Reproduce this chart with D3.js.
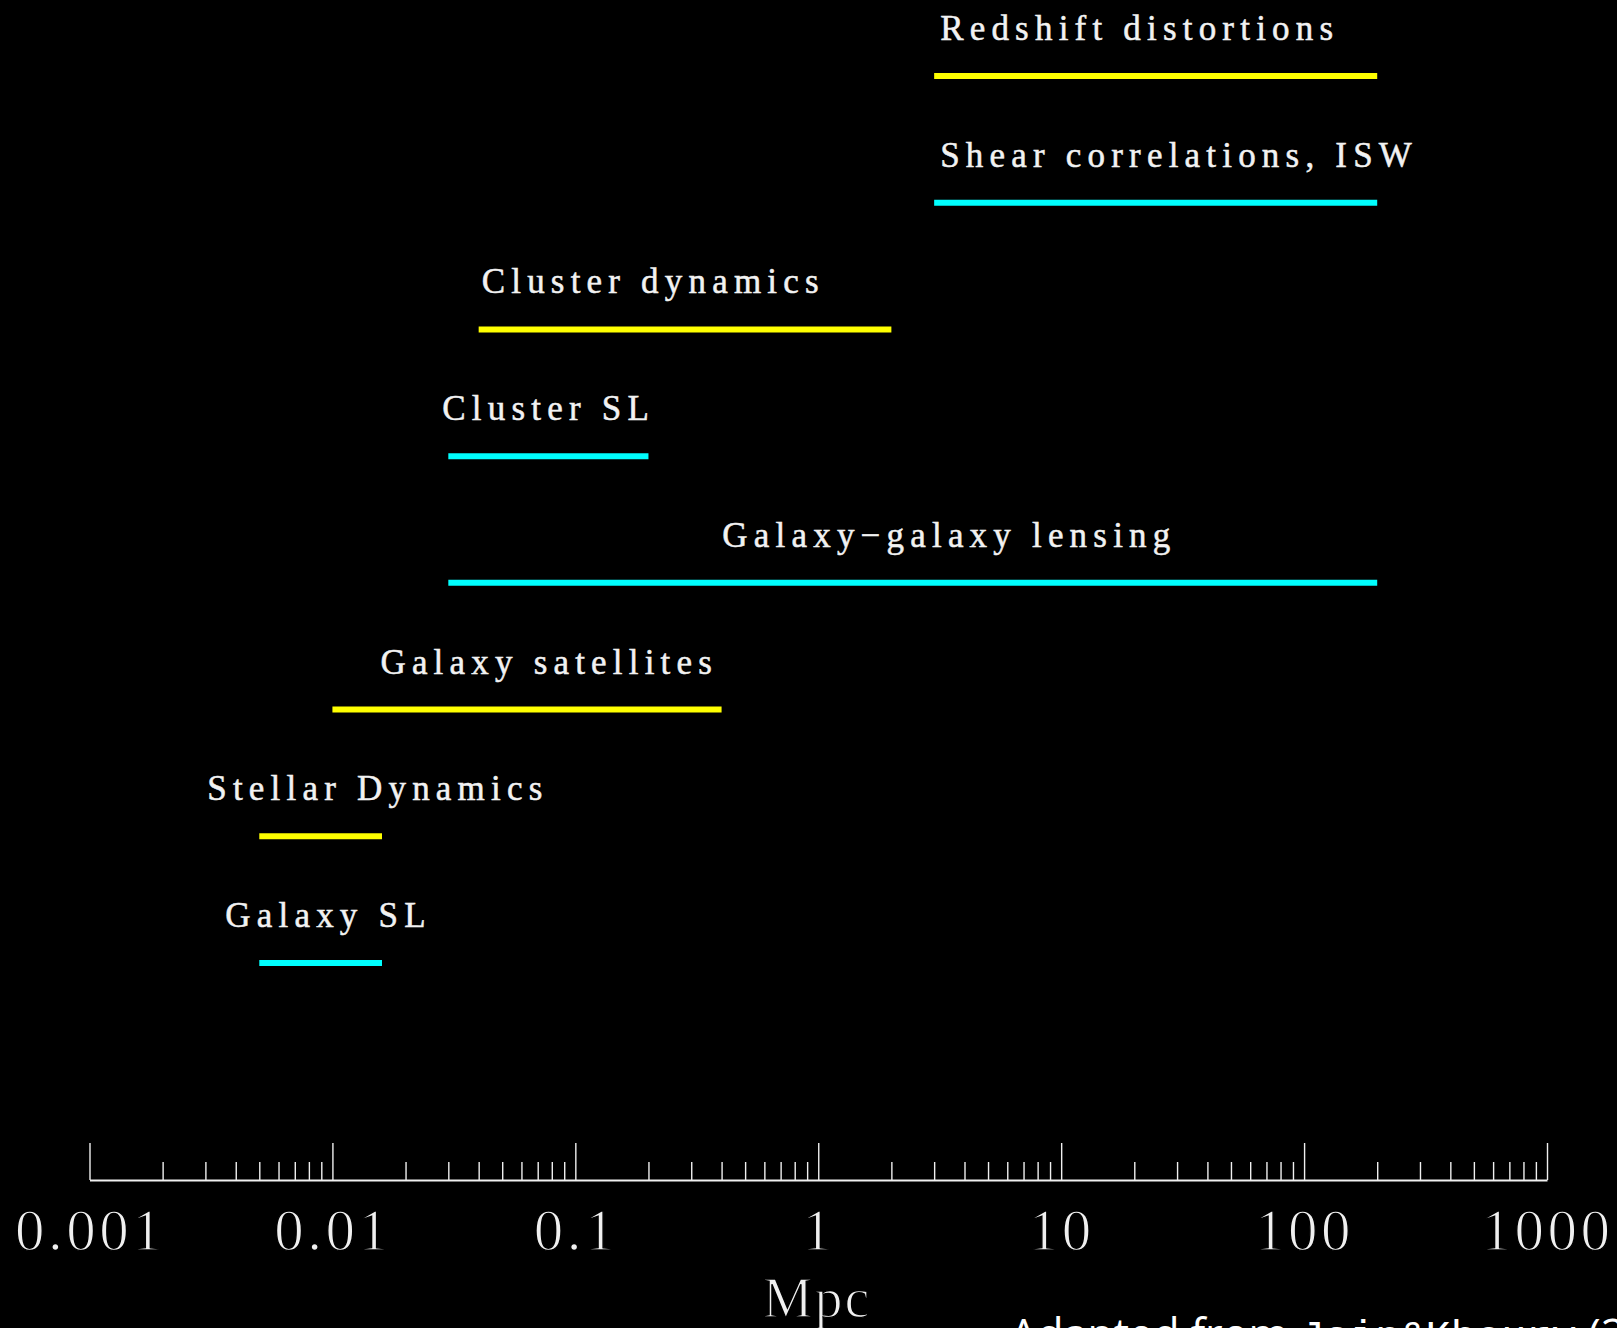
<!DOCTYPE html>
<html>
<head>
<meta charset="utf-8">
<script src="https://cdn.jsdelivr.net/npm/d3@7"></script>
<style>
  html, body { margin: 0; padding: 0; background: #000; }
  svg { display: block; }
</style>
</head>
<body>
<svg id="chart" width="1617" height="1328"></svg>
<script>
// Probes of gravity and the length scales (Mpc) each one covers
const probes = [
  "Redshift distortions",
  "Shear correlations, ISW",
  "Cluster dynamics",
  "Cluster SL",
  "Galaxy\u2212galaxy lensing",
  "Galaxy satellites",
  "Stellar Dynamics",
  "Galaxy SL"
];
const scaleMin = [3, 3, 0.04, 0.03, 0.03, 0.01, 0.005, 0.005];
const scaleMax = [200, 200, 2, 0.2, 200, 0.4, 0.016, 0.016];
const probeKind = ["dynamics", "lensing", "dynamics", "lensing", "lensing", "dynamics", "dynamics", "lensing"];

const majorTicks = [0.001, 0.01, 0.1, 1, 10, 100, 1000];
const tickLabels = ["0.001", "0.01", "0.1", "1", "10", "100", "1000"];
const axisTitle = "Mpc";

// Layout: horizontal shift of each label relative to the left end of its bar (px)
const labelShift = [6, 6, 3, -6, 274, 48, -52, -34];

const svg = d3.select("#chart");
const W = 1617, H = 1328;
svg.append("rect").attr("width", W).attr("height", H).attr("fill", "#000");

const x = d3.scaleLog().domain([0.001, 1000]).range([89.5, 1547]);
const y = d3.scalePoint().domain(probes).range([76, 963]);
const color = d3.scaleOrdinal().domain(["dynamics", "lensing"]).range(["#ffff00", "#00ffff"]);

const rows = probes.map((name, i) => ({
  name, lo: scaleMin[i], hi: scaleMax[i], kind: probeKind[i], shift: labelShift[i]
}));

// Range bars
svg.append("g").selectAll("line").data(rows).join("line")
  .attr("x1", d => x(d.lo))
  .attr("x2", d => x(d.hi))
  .attr("y1", d => y(d.name))
  .attr("y2", d => y(d.name))
  .attr("stroke", d => color(d.kind))
  .attr("stroke-width", 6)
  .attr("stroke-linecap", "butt");

// Probe names above the bars
svg.append("g").selectAll("text").data(rows).join("text")
  .attr("x", d => x(d.lo) + d.shift)
  .attr("y", d => y(d.name) - 36)
  .attr("fill", "#f2f2f2")
  .attr("stroke", "#f2f2f2")
  .attr("stroke-width", 0.5)
  .attr("font-family", "'Liberation Serif', 'DejaVu Serif', serif")
  .attr("font-size", 35)
  .attr("letter-spacing", "6.2px")
  .text(d => d.name);

// Axis: ticks point up from the baseline, labels sit below it
const axisY = 1180;
const minorTicks = [];
for (let e = -3; e < 3; e++) {
  for (let m = 2; m <= 9; m++) minorTicks.push(m * Math.pow(10, e));
}

const gMinor = svg.append("g").attr("transform", `translate(0,${axisY})`)
  .call(d3.axisBottom(x).tickValues(minorTicks).tickSizeInner(-18).tickSizeOuter(0).tickFormat(""));
gMinor.select(".domain").remove();

const gMajor = svg.append("g").attr("transform", `translate(0,${axisY})`)
  .call(d3.axisBottom(x).tickValues(majorTicks).tickSizeInner(-37).tickSizeOuter(0)
    .tickFormat((d, i) => tickLabels[i]));

svg.selectAll(".tick line").attr("stroke", "#f0f0f0").attr("stroke-width", 1.4);
gMajor.select(".domain").attr("stroke", "#f0f0f0").attr("stroke-width", 2);

// Thin-stroked serif numerals: a black outline trims the glyph weight
gMajor.selectAll(".tick text")
  .attr("y", 70)
  .attr("dy", null)
  .attr("fill", "#f0f0f0")
  .attr("stroke", "#000")
  .attr("stroke-width", 1.4)
  .attr("font-family", "'Liberation Serif', 'DejaVu Serif', serif")
  .attr("font-size", 59)
  .attr("letter-spacing", "3.5px");

svg.append("text")
  .attr("x", 817)
  .attr("y", 1317)
  .attr("text-anchor", "middle")
  .attr("fill", "#f0f0f0")
  .attr("stroke", "#000")
  .attr("stroke-width", 1.4)
  .attr("font-family", "'Liberation Serif', 'DejaVu Serif', serif")
  .attr("font-size", 56)
  .attr("letter-spacing", "2px")
  .text(axisTitle);

// Source note along the bottom edge
const note = svg.append("text")
  .attr("x", 1010)
  .attr("y", 1350)
  .attr("fill", "#ffffff")
  .attr("font-family", "'Open Sans', sans-serif")
  .attr("font-size", 43);
note.append("tspan").text("Adapted from ");
note.append("tspan").attr("font-family", "'Liberation Mono', monospace").attr("font-size", 42).text("Jain&Khoury");
note.append("tspan").text(" (2010)");
</script>
</body>
</html>
